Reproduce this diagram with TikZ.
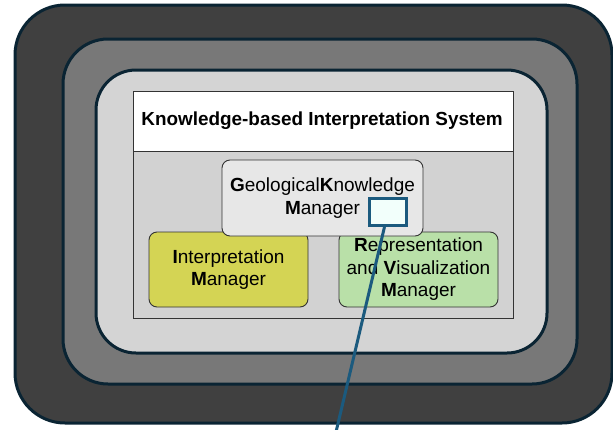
\documentclass[tikz,border=0pt]{standalone}
\usepackage{fontspec}
\setmainfont{Liberation Sans}
\usetikzlibrary{positioning}
\definecolor{shellEdge}{RGB}{10, 36, 51}
\definecolor{shellDark}{RGB}{64, 64, 64}
\definecolor{shellMid}{RGB}{120, 120, 120}
\definecolor{shellLight}{RGB}{212, 212, 212}
\definecolor{panelGray}{RGB}{210, 210, 210}
\definecolor{geoGray}{RGB}{231, 231, 231}
\definecolor{interpYellow}{RGB}{212, 212, 84}
\definecolor{reprGreen}{RGB}{185, 224, 168}
\definecolor{markerFill}{RGB}{242, 255, 251}
\definecolor{linkBlue}{RGB}{27, 90, 126}

\begin{document}
\begin{tikzpicture}[
  x=1pt,y=-1pt,
  shell/.style={draw=shellEdge,line width=3pt,rounded corners=#1},
  module/.style={
    draw=black!80,
    line width=0.9pt,
    rounded corners=8pt,
    align=center,
    inner sep=0pt,
    font=\fontsize{19}{22.5}\selectfont
  },
  link/.style={linkBlue,line width=3pt}
]
  \useasboundingbox (0,0) rectangle (613,429);
  % nested shells
  \draw[shell=50pt,fill=shellDark] (15,5) rectangle (612,423);
  \draw[shell=45pt,fill=shellMid] (63,39) rectangle (577,384);
  \draw[shell=40pt,fill=shellLight] (96,70) rectangle (547,353);
  % system panel
  \draw[black!80,line width=0.9pt,fill=white] (133,91) rectangle (513,151);
  \draw[black!80,line width=0.9pt,fill=panelGray] (133,151) rectangle (513,318);
  \node[font=\fontsize{18.9}{22}\selectfont\bfseries] (title) at (322,121)
    {Knowledge-based Interpretation System};
  \node[module,fill=interpYellow,minimum width=159pt,minimum height=75pt] (interp) at (228.5,269.5)
    {\textbf{I}nterpretation\\\textbf{M}anager};
  \node[module,fill=reprGreen,minimum width=159pt,minimum height=75pt] (repr) at (418.5,269.5)
    {\textbf{R}epresentation\\and \textbf{V}isualization\\\textbf{M}anager};
  \node[module,fill=geoGray,minimum width=201pt,minimum height=76pt] (geo) at (322.5,198)
    {\textbf{G}eological\textbf{K}nowledge\\\textbf{M}anager};
  % callout
  \node[draw=linkBlue,line width=3pt,fill=markerFill,minimum width=37pt,minimum height=27pt,inner sep=0pt] (marker) at (388,212) {};
  \coordinate (tail) at (336,432);
  \draw[link] (marker) -- (tail);
\end{tikzpicture}
\end{document}
